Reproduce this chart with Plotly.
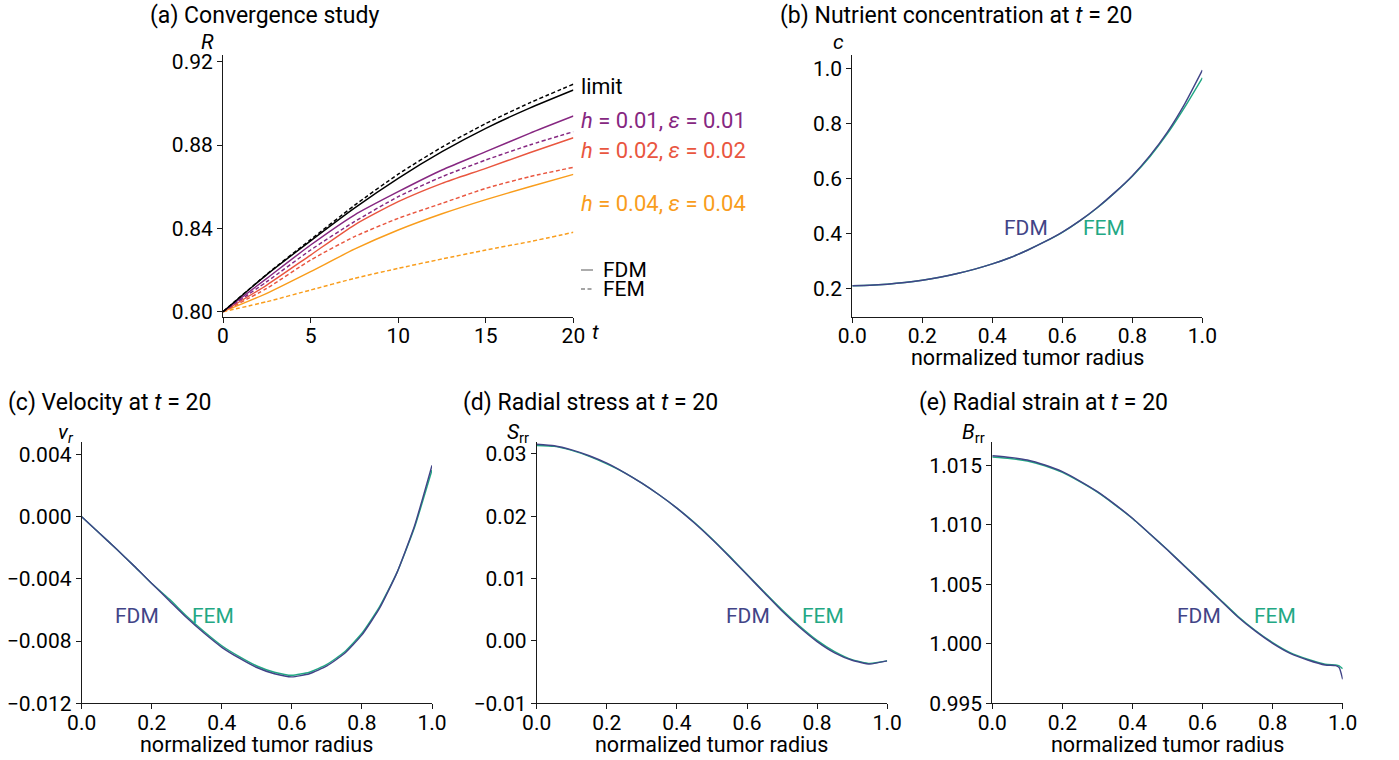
import plotly.graph_objects as go

# ---------------- data ----------------
t_vals = [0, 2.5, 5, 7.5, 10, 12.5, 15, 17.5, 20]
R_limit_fdm = [0.800, 0.8178, 0.8340, 0.8497, 0.8640, 0.8768, 0.8880, 0.8977, 0.9064]
R_limit_fem = [0.800, 0.8180, 0.8346, 0.8510, 0.8660, 0.8790, 0.8903, 0.9002, 0.9092]
R_h01_fdm = [0.800, 0.8160, 0.8320, 0.8464, 0.8576, 0.8680, 0.8768, 0.8856, 0.8939]
R_h01_fem = [0.800, 0.8144, 0.8296, 0.8432, 0.8552, 0.8648, 0.8728, 0.8800, 0.8864]
R_h02_fdm = [0.800, 0.8128, 0.8272, 0.8416, 0.8528, 0.8616, 0.8688, 0.8763, 0.8835]
R_h02_fem = [0.800, 0.8112, 0.8248, 0.8360, 0.8448, 0.8520, 0.8592, 0.8648, 0.8693]
R_h04_fdm = [0.800, 0.8088, 0.8192, 0.8300, 0.8392, 0.8470, 0.8538, 0.8600, 0.8659]
R_h04_fem = [0.800, 0.8048, 0.8104, 0.8160, 0.8208, 0.8253, 0.8296, 0.8336, 0.8381]

r_grid = [0, 0.05, 0.1, 0.15, 0.2, 0.25, 0.3, 0.35, 0.4, 0.45, 0.5,
          0.55, 0.6, 0.65, 0.7, 0.75, 0.8, 0.85, 0.9, 0.95, 1.0]
c_fdm = [0.2097, 0.2112, 0.2152, 0.2212, 0.2297, 0.2407, 0.2542, 0.2702, 0.2892, 0.3117, 0.3390,
         0.3700, 0.4050, 0.4470, 0.4950, 0.5500, 0.6110, 0.6840, 0.7700, 0.8740, 0.9960]
c_fem = [0.2097, 0.2112, 0.2152, 0.2212, 0.2297, 0.2407, 0.2542, 0.2702, 0.2892, 0.3117, 0.3390,
         0.3700, 0.4045, 0.4460, 0.4940, 0.5490, 0.6090, 0.6800, 0.7640, 0.8620, 0.9680]

v_fdm = [0, -0.00105, -0.0021, -0.00318, -0.0043, -0.0054, -0.0065, -0.0075, -0.0084, -0.0091, -0.0097,
         -0.0101, -0.0103, -0.0101, -0.0096, -0.0088, -0.0076, -0.0059, -0.0036, -0.0006, 0.0033]
v_fem = [0, -0.00105, -0.0021, -0.00318, -0.0043, -0.0053, -0.0064, -0.0074, -0.0083, -0.0090, -0.0096,
         -0.0100, -0.0102, -0.0100, -0.0095, -0.0087, -0.0075, -0.0058, -0.0036, -0.0007, 0.0030]

S_fdm = [0.03155, 0.0313, 0.03064, 0.0297, 0.0285, 0.0270, 0.0253, 0.0234, 0.0213, 0.0189, 0.0163,
         0.0135, 0.0106, 0.0077, 0.0048, 0.0022, -0.0001, -0.0019, -0.0031, -0.0037, -0.0032]
S_fem = [0.03134, 0.0312, 0.03055, 0.0296, 0.0284, 0.0270, 0.0253, 0.0234, 0.0213, 0.0190, 0.0164,
         0.0136, 0.0107, 0.0078, 0.0050, 0.0024, 0.0001, -0.0017, -0.0030, -0.0036, -0.0032]

r_b = [0, 0.05, 0.1, 0.15, 0.2, 0.25, 0.3, 0.35, 0.4, 0.45, 0.5, 0.55, 0.6, 0.65, 0.7,
       0.75, 0.8, 0.85, 0.9, 0.95, 0.98, 0.99, 1.0]
B_fdm = [1.01581, 1.01567, 1.01545, 1.01503, 1.01447, 1.01368, 1.01279, 1.01172, 1.01055, 1.00923,
         1.00788, 1.00648, 1.00508, 1.00368, 1.00228, 1.00108, 1.00004, 0.99920, 0.99864, 0.99822,
         0.99817, 0.99800, 0.99702]
B_fem = [1.01570, 1.01558, 1.01537, 1.01496, 1.01440, 1.01362, 1.01274, 1.01168, 1.01053, 1.00923,
         1.00790, 1.00651, 1.00512, 1.00373, 1.00234, 1.00114, 1.00010, 0.99926, 0.99870, 0.99828,
         0.99822, 0.99815, 0.99790]

# ---------------- styling ----------------
W, H = 1399, 760
FONT = "Roboto"
C_LIMIT = "#000000"
C_H01 = "#862781"
C_H02 = "#e9563f"
C_H04 = "#f99d1c"
C_FDM = "#414487"
C_FEM = "#22a884"
LW = 1.45
DASH = "4px,2.5px"
TICK_SIZE = 21
LABEL_SIZE = 21
TITLE_SIZE = 23


def px(x):
    return x / W


def py(y):
    return 1 - y / H


fig = go.Figure()

# panel (a)
for y, col, dash in [
    (R_h04_fem, C_H04, DASH), (R_h04_fdm, C_H04, "solid"),
    (R_h02_fem, C_H02, DASH), (R_h02_fdm, C_H02, "solid"),
    (R_h01_fem, C_H01, DASH), (R_h01_fdm, C_H01, "solid"),
    (R_limit_fem, C_LIMIT, DASH), (R_limit_fdm, C_LIMIT, "solid"),
]:
    fig.add_trace(go.Scatter(x=t_vals, y=y, mode="lines", xaxis="x", yaxis="y",
                             line=dict(color=col, width=LW, dash=dash, shape="spline", smoothing=0.6),
                             showlegend=False, hoverinfo="skip"))

panels = [
    ("2", r_grid, c_fem, c_fdm),
    ("3", r_grid, v_fem, v_fdm),
    ("4", r_grid, S_fem, S_fdm),
    ("5", r_b, B_fem, B_fdm),
]
for k, xs, yfem, yfdm in panels:
    fig.add_trace(go.Scatter(x=xs, y=yfem, mode="lines", xaxis="x" + k, yaxis="y" + k,
                             line=dict(color=C_FEM, width=LW, shape="spline", smoothing=0.5),
                             showlegend=False, hoverinfo="skip"))
    fig.add_trace(go.Scatter(x=xs, y=yfdm, mode="lines", xaxis="x" + k, yaxis="y" + k,
                             line=dict(color=C_FDM, width=LW, shape="spline", smoothing=0.5),
                             showlegend=False, hoverinfo="skip"))

# axis geometry (pixels)
boxes = {
    "": (223.0, 573.4, 55.0, 316.7),
    "2": (852.3, 1202.4, 55.0, 316.7),
    "3": (81.7, 432.0, 442.0, 703.3),
    "4": (536.7, 887.2, 442.0, 703.3),
    "5": (992.3, 1342.7, 442.0, 703.3),
}
yranges = {
    "": [0.7976, 0.9232],
    "2": [0.0966, 1.051],
    "3": [-0.012, 0.0048],
    "4": [-0.01, 0.0319],
    "5": [0.995, 1.01696],
}
ytick = {
    "": dict(tickvals=[0.80, 0.84, 0.88, 0.92], tickformat=".2f"),
    "2": dict(tickvals=[0.2, 0.4, 0.6, 0.8, 1.0], tickformat=".1f"),
    "3": dict(tickvals=[-0.012, -0.008, -0.004, 0.0, 0.004], tickformat=".3f"),
    "4": dict(tickvals=[-0.01, 0.0, 0.01, 0.02, 0.03], tickformat=".2f"),
    "5": dict(tickvals=[0.995, 1.000, 1.005, 1.010, 1.015], tickformat=".3f"),
}
axis_common = dict(showline=True, linecolor="#1a1a1a", linewidth=1, ticks="outside",
                   ticklen=5, tickwidth=1, tickcolor="#1a1a1a", showgrid=False, zeroline=False,
                   automargin=False,
                   tickfont=dict(family=FONT, size=TICK_SIZE, color="#000"), fixedrange=True)

layout = dict(template="none", width=W, height=H, autosize=False,
              margin=dict(l=0, r=0, t=0, b=0, pad=0, autoexpand=False),
              paper_bgcolor="white", plot_bgcolor="white", showlegend=False,
              font=dict(family=FONT, size=20, color="#000"))
for k, (x0, x1, y0, y1) in boxes.items():
    xa = dict(axis_common, domain=[px(x0), px(x1)], anchor="y" + k, ticklabelstandoff=-5)
    ya = dict(axis_common, domain=[py(y1), py(y0)], anchor="x" + k, range=yranges[k], **ytick[k])
    if k == "":
        xa.update(range=[0, 20], tickvals=[0, 5, 10, 15, 20])
    else:
        xa.update(range=[0, 1], tickvals=[0, 0.2, 0.4, 0.6, 0.8, 1.0], tickformat=".1f")
    layout["xaxis" + k] = xa
    layout["yaxis" + k] = ya
fig.update_layout(**layout)

ann = []


def text(x, y, s, size=LABEL_SIZE, color="#000", xanchor="left", xref="paper", yref="paper"):
    ann.append(dict(x=x, y=y, xref=xref, yref=yref, text=s, showarrow=False,
                    xanchor=xanchor, yanchor="middle", align=xanchor if xanchor != "center" else "center",
                    borderpad=0, font=dict(family=FONT, size=size, color=color)))


# titles
text(px(149), py(15), "(a) Convergence study", size=TITLE_SIZE)
text(px(779), py(15), "(b) Nutrient concentration at <i>t</i> = 20", size=TITLE_SIZE)
text(px(7), py(402), "(c) Velocity at <i>t</i> = 20", size=TITLE_SIZE)
text(px(462), py(402), "(d) Radial stress at <i>t</i> = 20", size=TITLE_SIZE)
text(px(918), py(402), "(e) Radial strain at <i>t</i> = 20", size=TITLE_SIZE)

# axis titles
text(px(207.5), py(42), "<i>R</i>", xanchor="center")
text(px(838), py(42), "<i>c</i>", xanchor="center")
text(px(66), py(433), "<i>v</i><sub><i>r</i></sub>", xanchor="center")
text(px(517.5), py(433), "<i>S</i><sub>rr</sub>", xanchor="center")
text(px(973.5), py(433), "<i>B</i><sub>rr</sub>", xanchor="center")
text(px(595.5), py(332), "<i>t</i>", xanchor="center")
for k in ["2", "3", "4", "5"]:
    x0, x1, y0, y1 = boxes[k]
    text(px((x0 + x1) / 2), py(y1 + 41), "normalized tumor radius", size=21.5, xanchor="center")

# panel (a) labels
text(px(580), py(86), "limit", color=C_LIMIT, size=21.5)
text(px(580), py(120), "<i>h</i> = 0.01, <i>ε</i> = 0.01", color=C_H01, size=22)
text(px(580), py(150), "<i>h</i> = 0.02, <i>ε</i> = 0.02", color=C_H02, size=22)
text(px(580), py(204), "<i>h</i> = 0.04, <i>ε</i> = 0.04", color=C_H04, size=22)
text(px(602), py(270), "FDM")
text(px(602), py(289), "FEM")

# FDM / FEM labels in data coords
label_pos = {
    "2": ((0.495, 0.419), (0.72, 0.419)),
    "3": ((0.157, -0.00637), (0.374, -0.00637)),
    "4": ((0.603, 0.004), (0.816, 0.004)),
    "5": ((0.591, 1.00234), (0.806, 1.00234)),
}
for k, ((fx, fy), (ex, ey)) in label_pos.items():
    text(fx, fy, "FDM", color=C_FDM, xanchor="center", xref="x" + k, yref="y" + k)
    text(ex, ey, "FEM", color=C_FEM, xanchor="center", xref="x" + k, yref="y" + k)

fig.update_layout(annotations=ann)

# legend glyphs for panel (a)
fig.add_shape(type="line", xref="paper", yref="paper", x0=px(581), x1=px(593), y0=py(270), y1=py(270),
              line=dict(color="#888888", width=1.4))
fig.add_shape(type="line", xref="paper", yref="paper", x0=px(581), x1=px(593), y0=py(289), y1=py(289),
              line=dict(color="#888888", width=1.4, dash="4px,2.5px"))

fig.write_html("out.html", config={"responsive": False},
               post_script="document.body.style.margin='0';document.documentElement.style.overflow='hidden';")
